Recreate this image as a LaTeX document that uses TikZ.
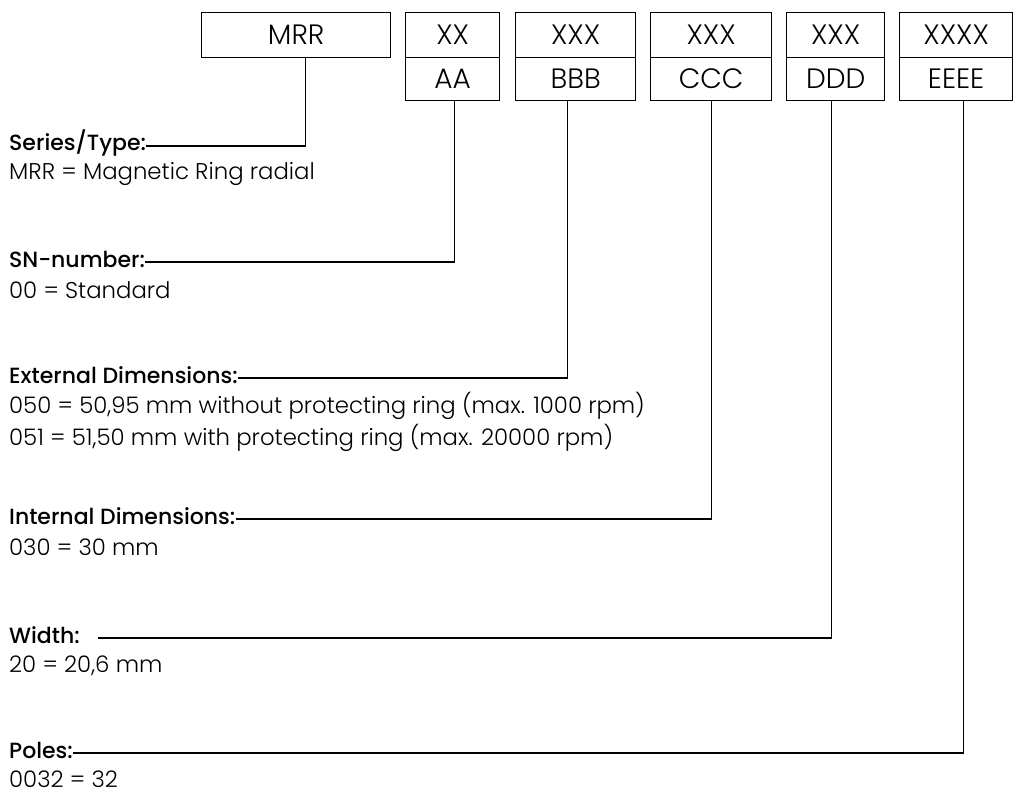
\documentclass[tikz,border=0pt]{standalone}
\usepackage{fontspec}
\setmainfont{Poppins}[UprightFont={* Light}, BoldFont={* Medium}]
\begin{document}
\begin{tikzpicture}[x=1pt,y=-1pt,
  box/.style={draw, line width=1.3pt, inner sep=0pt, anchor=north west,
    font=\fontsize{28}{28}\selectfont},
  ttl/.style={anchor=west, inner sep=0pt, font=\fontsize{22}{22}\selectfont\bfseries},
  dsc/.style={anchor=west, inner sep=0pt, font=\fontsize{22.8}{22.8}\selectfont},
  conn/.style={line width=1.3pt}]
\useasboundingbox (0,0) rectangle (1014,796);
% boxes
\node[box, minimum width=189pt, minimum height=45pt] (mrr) at (201,12) {MRR};
\node[box, minimum width=94pt, minimum height=45pt] (xx) at (405,12) {XX};
\node[box, minimum width=94pt, minimum height=43pt] (aa) at (405,57) {AA};
\node[box, minimum width=120pt, minimum height=45pt] (xb) at (515,12) {XXX};
\node[box, minimum width=120pt, minimum height=43pt] (bbb) at (515,57) {BBB};
\node[box, minimum width=121pt, minimum height=45pt] (xc) at (650,12) {XXX};
\node[box, minimum width=121pt, minimum height=43pt] (ccc) at (650,57) {CCC};
\node[box, minimum width=98pt, minimum height=45pt] (xd) at (786,12) {XXX};
\node[box, minimum width=98pt, minimum height=43pt] (ddd) at (786,57) {DDD};
\node[box, minimum width=113pt, minimum height=45pt] (xe) at (899,12) {XXXX};
\node[box, minimum width=113pt, minimum height=43pt] (eee) at (899,57) {EEEE};
% labels
\node[ttl] (ser) at (9,143) {Series/Type:};
\node[dsc] (serd) at (9,174) {MRR = Magnetic Ring radial};
\node[ttl] (sn) at (9,259) {SN-number:};
\node[dsc] (snd) at (9,290) {00 = Standard};
\node[ttl] (ext) at (9,375) {External Dimensions:};
\node[dsc] (extd1) at (9,406) {050 = 50,95 mm without protecting ring (max. 1000 rpm)};
\node[dsc] (extd2) at (9,438) {051 = 51,50 mm with protecting ring (max. 20000 rpm)};
\node[ttl] (int) at (9,516) {Internal Dimensions:};
\node[dsc] (intd) at (9,547) {030 = 30 mm};
\node[ttl] (wid) at (9,635) {Width:};
\node[dsc] (widd) at (9,666) {20 = 20,6 mm};
\node[ttl] (pol) at (9,750) {Poles:};
\node[dsc] (pold) at (9,779) {0032 = 32};
% connectors
\draw[conn] ([yshift=-3pt]ser.east) -| ([xshift=9.5pt]mrr.south);
\draw[conn] ([yshift=-3pt]sn.east) -| ([xshift=2pt]aa.south);
\draw[conn] ([yshift=-3pt]ext.east) -| ([xshift=-8pt]bbb.south);
\draw[conn] ([yshift=-3pt]int.east) -| ([xshift=0.5pt]ccc.south);
\draw[conn] ([xshift=18pt,yshift=-3pt]wid.east) -| ([xshift=-4pt]ddd.south);
\draw[conn] ([yshift=-3pt]pol.east) -| ([xshift=7.5pt]eee.south);
\end{tikzpicture}
\end{document}
